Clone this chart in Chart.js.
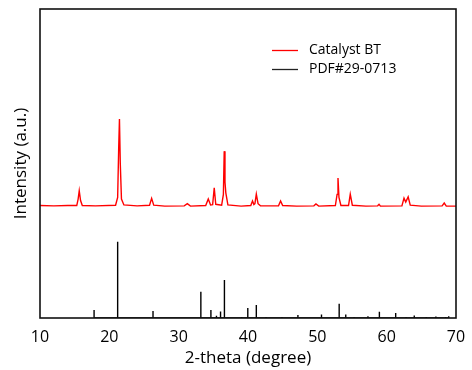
<!DOCTYPE html>
<html>
<head>
<meta charset="utf-8">
<script src="https://cdn.jsdelivr.net/npm/chart.js@4.4.1/dist/chart.umd.min.js"></script>
<style>
    html, body { margin: 0; padding: 0; background: #fff; }
    #wrap { position: relative; width: 472px; height: 370px; }
</style>
</head>
<body>
<div id="wrap"><canvas id="xrdChart" width="472" height="370"></canvas></div>
<script>
// Measured pattern (Catalyst BT), 2-theta vs intensity (a.u., offset up)
const catalystTheta = [
    10, 12, 14, 15.3, 15.5, 15.66, 15.85, 16.1, 18, 20.9, 21.2, 21.35, 21.46, 21.58, 21.75, 22.1,
    24, 25.8, 26.1, 26.4, 28, 30.8, 31.25, 31.7, 33.9, 34.27, 34.6, 34.9, 35.13, 35.35, 36.2,
    36.45, 36.57, 36.68, 36.8, 37.1, 39, 40.4, 40.65, 40.85, 41.0, 41.2, 41.45, 41.8, 44.4,
    44.7, 45.0, 47, 49.5, 49.8, 50.2, 52.6, 52.85, 52.98, 53.12, 53.4, 54.5, 54.75, 55.05,
    57, 58.7, 58.9, 59.1, 62.2, 62.5, 62.75, 63.1, 63.4, 65, 68.0, 68.3, 68.6, 70
];
const catalystCounts = [
    36.4, 36.3, 36.4, 36.4, 38.5, 41.2, 38.0, 36.4, 36.3, 36.5, 39.0, 55.0, 64.4, 50.0, 38.5, 36.6,
    36.3, 36.5, 38.7, 36.5, 36.2, 36.3, 37.0, 36.2, 36.4, 38.5, 36.6, 36.7, 42.1, 36.8, 36.5,
    40.0, 54.0, 44.0, 40.5, 36.6, 36.2, 36.4, 37.9, 36.7, 37.0, 40.1, 37.0, 36.3, 36.3,
    37.9, 36.4, 36.2, 36.3, 36.9, 36.2, 36.4, 40.0, 45.3, 39.0, 36.4, 36.4, 40.1, 36.5,
    36.2, 36.3, 36.8, 36.2, 36.3, 38.8, 37.5, 39.2, 36.5, 36.2, 36.3, 37.2, 36.2, 36.2
];

// Reference card PDF#29-0713 stick positions and relative heights
const pdfTheta = [
    17.8, 21.2, 26.3, 33.2, 34.65, 35.45, 36.04, 36.6, 39.1, 39.97, 41.2, 42.6, 44.9,
    47.2, 50.6, 53.15, 54.1, 55.3, 57.3, 58.95, 61.3, 62.8, 63.98, 65.7, 67.1, 68.5, 68.95
];
const pdfHeights = [
    2.6, 24.7, 2.3, 8.5, 2.6, 0.7, 2.1, 12.3, 0.3, 3.2, 4.2, 0.3, 0.3,
    1.0, 1.1, 4.6, 1.1, 0.3, 0.6, 2.0, 1.6, 0.3, 0.8, 0.3, 0.5, 0.3, 0.6
];

const seriesLabels = ['Catalyst BT', 'PDF#29-0713'];
const xTicks = [10, 20, 30, 40, 50, 60, 70];

const FONT = "'Open Sans', 'Noto Sans', sans-serif";

function buildCatalystPoints() {
    return catalystTheta.map((t, i) => ({ x: t, y: catalystCounts[i] }));
}

function buildStickPoints() {
    const pts = [];
    pdfTheta.forEach((t, i) => {
        pts.push({ x: t, y: 0 });
        pts.push({ x: t, y: pdfHeights[i] });
        pts.push({ x: t, y: 0 });
    });
    return pts;
}

// Frame around the plot + legend inside the plot area
const framePlugin = {
    id: 'frameAndLegend',
    afterDraw(chart) {
        const ctx = chart.ctx;
        const a = chart.chartArea;
        ctx.save();
        ctx.strokeStyle = '#111';
        ctx.lineWidth = 1.6;
        ctx.strokeRect(a.left, a.top, a.right - a.left, a.bottom - a.top);

        const colors = ['#ff0000', '#222'];
        const rowsY = [50.5, 69.5];
        ctx.font = '14px ' + FONT;
        ctx.textBaseline = 'middle';
        ctx.fillStyle = '#000';
        seriesLabels.forEach((label, i) => {
            ctx.strokeStyle = colors[i];
            ctx.lineWidth = 1.3;
            ctx.beginPath();
            ctx.moveTo(272, rowsY[i]);
            ctx.lineTo(298, rowsY[i]);
            ctx.stroke();
            ctx.fillText(label, 309, rowsY[i]);
        });
        ctx.restore();
    }
};

const ctx = document.getElementById('xrdChart').getContext('2d');
const xrdChart = new Chart(ctx, {
    type: 'line',
    data: {
        datasets: [{
            label: seriesLabels[0],
            data: buildCatalystPoints(),
            borderColor: '#ff0000',
            borderWidth: 1.4,
            pointRadius: 0,
            tension: 0
        }, {
            label: seriesLabels[1],
            data: buildStickPoints(),
            borderColor: '#000',
            borderWidth: 1.4,
            pointRadius: 0,
            tension: 0
        }]
    },
    options: {
        responsive: false,
        animation: false,
        layout: { padding: { top: 9, right: 16, left: 0, bottom: 0 } },
        plugins: {
            legend: { display: false },
            tooltip: { enabled: false }
        },
        scales: {
            x: {
                type: 'linear',
                min: 10,
                max: 70,
                afterBuildTicks: scale => { scale.ticks = xTicks.map(v => ({ value: v })); },
                // invisible tick marks only push the labels down a bit
                grid: {
                    display: true,
                    drawOnChartArea: false,
                    drawTicks: true,
                    tickLength: 4,
                    tickColor: 'rgba(0,0,0,0)'
                },
                border: { display: false },
                ticks: {
                    color: '#000',
                    padding: 6,
                    font: { family: FONT, size: 16 },
                    maxRotation: 0
                },
                title: {
                    display: true,
                    text: '2-theta (degree)',
                    color: '#000',
                    font: { family: FONT, size: 17 },
                    padding: { top: 2, bottom: 2 }
                },
                afterFit: scale => { scale.height = 52; }
            },
            y: {
                min: 0,
                max: 100,
                grid: { display: false, drawTicks: false },
                border: { display: false },
                ticks: { display: false },
                title: {
                    display: true,
                    text: 'Intensity (a.u.)',
                    color: '#000',
                    font: { family: FONT, size: 17 },
                    padding: { top: 11, bottom: 0 }
                },
                afterFit: scale => { scale.width = 40; }
            }
        }
    },
    plugins: [framePlugin]
});
</script>
</body>
</html>
